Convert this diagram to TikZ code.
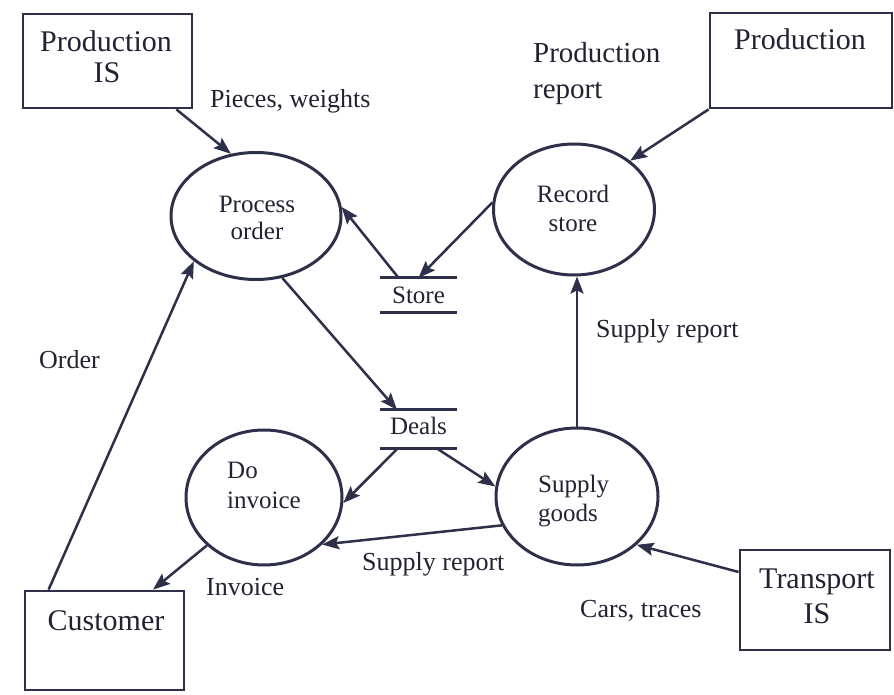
\documentclass[tikz,border=0pt]{standalone}
\usepackage{fontspec}
\setmainfont{Liberation Serif}
\usetikzlibrary{arrows.meta,shapes.geometric}
\definecolor{ink}{RGB}{46,48,74}
\definecolor{txt}{RGB}{34,34,52}
\begin{document}
\begin{tikzpicture}[x=1pt,y=-1pt,
  ent/.style={draw=ink,line width=2.8pt,rectangle,inner sep=0pt},
  proc/.style={draw=ink,line width=3pt,ellipse,inner sep=0pt},
  dstore/.style={inner sep=0pt,minimum width=77pt},
  dsline/.style={draw=ink,line width=2.8pt},
  flow/.style={draw=ink,line width=2.5pt,-{Stealth[length=17pt,width=13pt,inset=3pt]}},
  big/.style={text=txt,font=\fontsize{30}{34}\selectfont,anchor=base,inner sep=0pt},
  mid/.style={text=txt,font=\fontsize{25}{30}\selectfont,anchor=base,inner sep=0pt},
  midw/.style={text=txt,font=\fontsize{25}{30}\selectfont,anchor=base west,inner sep=0pt},
  lab/.style={text=txt,font=\fontsize{26}{30}\selectfont,anchor=base west,inner sep=0pt}]
\fill[white] (0,0) rectangle (894,695);
\useasboundingbox (0,0) rectangle (894,695);

% external entities
\node[ent,minimum width=169pt,minimum height=94pt] (pis) at (107.5,61) {};
\node[big] (pist1) at (106,52) {Production};
\node[big] (pist2) at (107,83) {IS};
\node[ent,minimum width=182pt,minimum height=95pt] (prod) at (801,60.5) {};
\node[big] (prodt) at (800,50) {Production};
\node[ent,minimum width=159pt,minimum height=99pt] (cust) at (104.5,640.5) {};
\node[big] (custt) at (106,630) {Customer};
\node[ent,minimum width=150pt,minimum height=100pt] (tis) at (815,600) {};
\node[big] (tist1) at (817,588) {Transport};
\node[big] (tist2) at (817,623) {IS};

% processes
\node[proc,minimum width=170pt,minimum height=127pt] (po) at (256,216) {};
\node[mid] (pot1) at (257,212) {Process};
\node[mid] (pot2) at (257,240) {order};
\node[proc,minimum width=161pt,minimum height=131pt] (rs) at (574,209.5) {};
\node[mid] (rst1) at (573,203) {Record};
\node[mid] (rst2) at (573,232) {store};
\node[proc,minimum width=156pt,minimum height=135pt] (di) at (264,497.5) {};
\node[midw] (dit1) at (227,478) {Do};
\node[midw] (dit2) at (227,508) {invoice};
\node[proc,minimum width=162pt,minimum height=137pt] (sg) at (577,496.5) {};
\node[midw] (sgt1) at (538,492) {Supply};
\node[midw] (sgt2) at (538,521) {goods};

% data stores
\node[dstore,minimum height=34pt] (store) at (418.5,295) {};
\node[mid] (storet) at (418.5,303) {Store};
\draw[dsline] (store.north west) -- (store.north east);
\draw[dsline] (store.south west) -- (store.south east);
\node[dstore,minimum height=38pt] (deals) at (418.5,429) {};
\node[mid] (dealst) at (418.5,434) {Deals};
\draw[dsline] (deals.north west) -- (deals.north east);
\draw[dsline] (deals.south west) -- (deals.south east);

% flows
\draw[flow] ([xshift=-17pt]pis.south east) -- (po.112);
\draw[flow] ([xshift=-20pt]store.north) -- (po.6);
\draw[flow] (rs.175) -- (store.north);
\draw[flow] (prod.south west) -- (rs.41);
\draw[flow] (po.-67) -- ([xshift=-21.5pt]deals.north);
\draw[flow] ([xshift=-20.5pt]deals.south) -- (di.-4);
\draw[flow] ([xshift=18pt]deals.south) -- (sg.173);
\draw[flow] (sg.201) -- (di.-39);
\draw[flow] (sg.north) -- (sg.north |- rs.south);
\draw[flow] (di.220) -- ([xshift=48.5pt]cust.north);
\draw[flow] ([xshift=25pt]cust.north west) -- (po.216);
\draw[flow] ([yshift=28pt]tis.west) -- (sg.-39);

% flow labels
\node[lab] (l1) at (210,108) {Pieces, weights};
\node[text=txt,font=\fontsize{29}{34}\selectfont,anchor=base west,inner sep=0pt] (l2a) at (533,63) {Production};
\node[text=txt,font=\fontsize{29}{34}\selectfont,anchor=base west,inner sep=0pt] (l2b) at (533,99) {report};
\node[lab] (l3) at (39,368) {Order};
\node[lab] (l4) at (596,337) {Supply report};
\node[lab] (l5) at (362,570) {Supply report};
\node[lab] (l6) at (206,595) {Invoice};
\node[lab] (l7) at (580,617) {Cars, traces};
\end{tikzpicture}
\end{document}
